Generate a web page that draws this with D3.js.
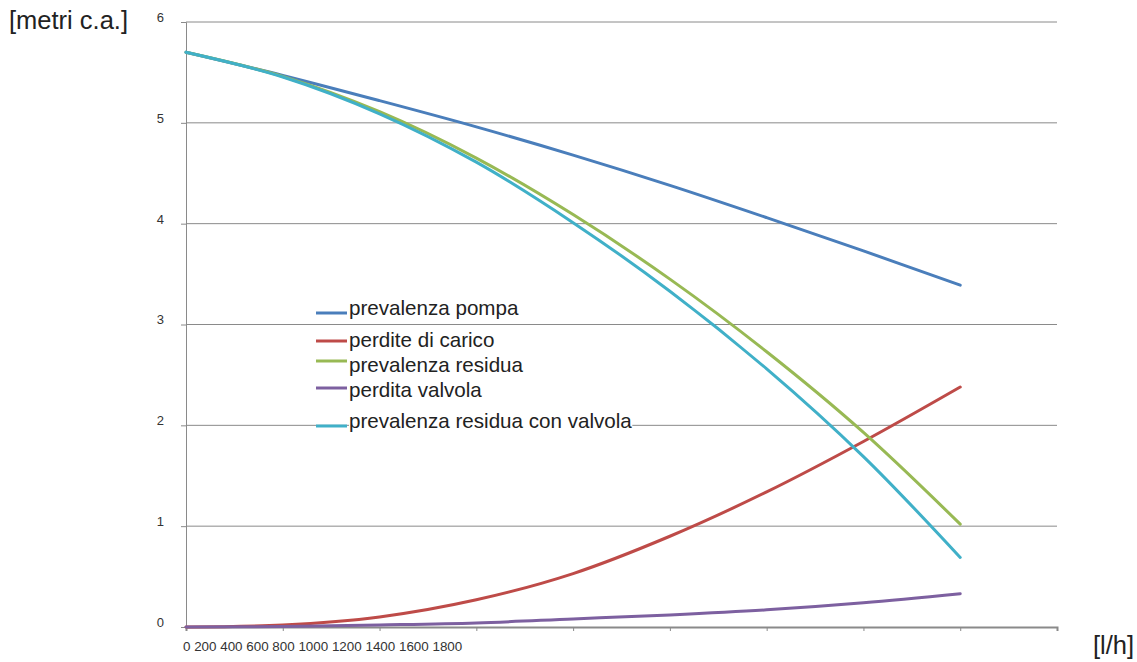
<!DOCTYPE html>
<html>
<head>
<meta charset="utf-8">
<script src="https://cdn.jsdelivr.net/npm/d3@7/dist/d3.min.js"></script>
<style>
  html, body { margin: 0; padding: 0; background: #fff; }
  svg { display: block; }
</style>
</head>
<body>
<svg id="chart" width="1137" height="662"></svg>
<script>
// ---- data ----
const categories = ["0","200","400","600","800","1000","1200","1400","1600","1800"];
const yTicks = [0, 1, 2, 3, 4, 5, 6];
const seriesNames = ["prevalenza pompa","perdite di carico","prevalenza residua","perdita valvola","prevalenza residua con valvola"];
const prevalenzaPompa   = [5.70, 5.47, 5.22, 4.96, 4.68, 4.38, 4.06, 3.73, 3.39];
const perditeDiCarico   = [0.00, 0.02, 0.10, 0.27, 0.53, 0.90, 1.34, 1.84, 2.38];
const prevalenzaResidua = [5.70, 5.46, 5.11, 4.65, 4.09, 3.45, 2.73, 1.93, 1.02];
const perditaValvola    = [0.00, 0.005, 0.02, 0.04, 0.08, 0.12, 0.17, 0.24, 0.33];
const residuaConValvola = [5.70, 5.455, 5.09, 4.61, 4.01, 3.33, 2.56, 1.69, 0.69];
const yLabel = "[metri c.a.]";
const xLabel = "[l/h]";

// ---- layout / style ----
const colors = ["#4a7ebb", "#be4b48", "#98b954", "#7d60a0", "#40b0c8"];
const legendBaselines = [315, 347, 372, 397, 428];
const legendLineY = [313, 341, 361, 388, 426];

const svg = d3.select("#chart");
const mLeft = 186, mRight = 1057, mTop = 22, mBottom = 627;

const x = d3.scalePoint().domain(categories).range([mLeft, mRight]);
const y = d3.scaleLinear().domain([0, 6]).range([mBottom, mTop]);

// gridlines
svg.append("g")
  .selectAll("line")
  .data(yTicks.filter(d => d > 0))
  .join("line")
  .attr("x1", mLeft).attr("x2", mRight)
  .attr("y1", d => y(d)).attr("y2", d => y(d))
  .attr("stroke", "#8a8a8a").attr("stroke-width", 1);

// y axis
const yAxis = svg.append("g")
  .attr("transform", `translate(${mLeft},0)`)
  .call(d3.axisLeft(y).tickValues(yTicks).tickSize(5).tickPadding(17).tickFormat(d3.format("d")));
yAxis.select(".domain").attr("stroke", "#8a8a8a");
yAxis.selectAll(".tick line").attr("stroke", "#8a8a8a");
yAxis.selectAll(".tick text")
  .attr("font-family", "Liberation Sans, Arial, sans-serif")
  .attr("font-size", 13).attr("fill", "#333").attr("dy", "-0.05em");

// x axis (ticks only; labels written as a run of text)
const xAxis = svg.append("g")
  .attr("transform", `translate(0,${mBottom})`)
  .call(d3.axisBottom(x).tickSize(4).tickFormat(""));
xAxis.select(".domain").attr("stroke", "#8a8a8a").attr("stroke-width", 2);
xAxis.selectAll(".tick line").attr("stroke", "#8a8a8a");

svg.append("text")
  .attr("x", 183).attr("y", 651)
  .attr("font-family", "Liberation Sans, Arial, sans-serif")
  .attr("font-size", 13.4).attr("fill", "#333")
  .text(categories.join(" "));

// series lines
const allSeries = [prevalenzaPompa, perditeDiCarico, prevalenzaResidua, perditaValvola, residuaConValvola];
const line = d3.line()
  .x((d, i) => x(categories[i]))
  .y(d => y(d))
  .curve(d3.curveCatmullRom.alpha(0.5));

svg.append("g")
  .selectAll("path")
  .data(allSeries)
  .join("path")
  .attr("d", d => line(d))
  .attr("fill", "none")
  .attr("stroke", (d, i) => colors[i])
  .attr("stroke-width", 3)
  .attr("stroke-linecap", "round");

// legend
const lg = svg.append("g");
seriesNames.forEach((name, i) => {
  const t = lg.append("text")
    .attr("x", 349).attr("y", legendBaselines[i])
    .attr("font-family", "Liberation Sans, Arial, sans-serif")
    .attr("font-size", 20.6).attr("fill", "#222")
    .text(name);
  const bb = t.node().getBBox();
  lg.insert("rect", "text")
    .attr("x", bb.x).attr("y", bb.y + 2).attr("width", bb.width).attr("height", bb.height - 2)
    .attr("fill", "#fff");
  lg.append("line")
    .attr("x1", 316).attr("x2", 347)
    .attr("y1", legendLineY[i]).attr("y2", legendLineY[i])
    .attr("stroke", colors[i]).attr("stroke-width", 3);
});

// axis titles
svg.append("text")
  .attr("x", 9).attr("y", 29)
  .attr("font-family", "Liberation Sans, Arial, sans-serif")
  .attr("font-size", 25.5).attr("fill", "#222")
  .text(yLabel);
svg.append("text")
  .attr("x", 1093).attr("y", 654)
  .attr("font-family", "Liberation Sans, Arial, sans-serif")
  .attr("font-size", 25.5).attr("fill", "#222")
  .text(xLabel);
</script>
</body>
</html>
